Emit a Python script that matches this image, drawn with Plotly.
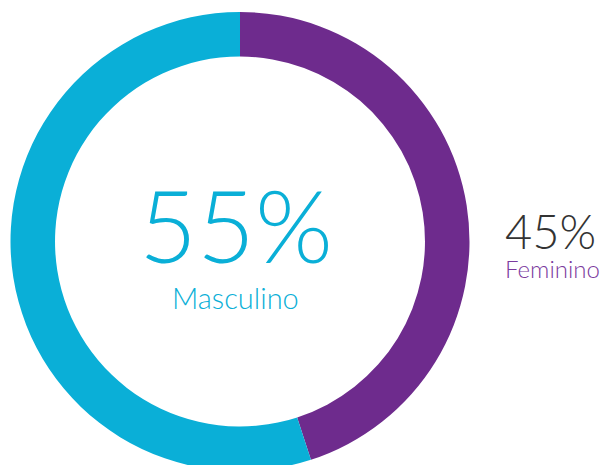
import plotly.graph_objects as go

labels = ["Masculino", "Feminino"]
values = [55, 45]
colors = ["#0AAFD7", "#6E2B8D"]
pct_text = ["55%", "45%"]

W, H = 603, 475  # page is 465 tall; bottom of ring is cut off like the reference
cx, cy, r = 240, 241.5, 229.5

# clockwise from 12 o'clock: Feminino first
fig = go.Figure(go.Pie(
    labels=labels[::-1], values=values[::-1], sort=False, direction="clockwise",
    rotation=0, hole=0.806, marker=dict(colors=colors[::-1], line=dict(width=0)),
    textinfo="none", hoverinfo="label+percent", showlegend=False,
    domain=dict(x=[(cx - r) / W, (cx + r) / W], y=[1 - (cy + r) / H, 1 - (cy - r) / H]),
))

fig.add_annotation(x=236 / W, y=1 - 224 / H, xref="paper", yref="paper", text=pct_text[0],
                   showarrow=False, font=dict(family="Lato", size=100, color=colors[0], weight=300))
fig.add_annotation(x=235 / W, y=1 - 297 / H, xref="paper", yref="paper", text=labels[0],
                   showarrow=False, font=dict(family="Lato", size=29, color=colors[0], weight=300))
fig.add_annotation(x=503 / W, y=1 - 231 / H, xref="paper", yref="paper", text=pct_text[1],
                   xanchor="left", showarrow=False, font=dict(family="Lato", size=47, color="#333333", weight=300))
fig.add_annotation(x=503 / W, y=1 - 268 / H, xref="paper", yref="paper", text=labels[1],
                   xanchor="left", showarrow=False, font=dict(family="Lato", size=24, color="#7B3A9E", weight=300))

fig.update_layout(width=W, height=H, margin=dict(l=0, r=0, t=0, b=0),
                  paper_bgcolor="white", plot_bgcolor="white")
fig.write_html("out.html", config={"displayModeBar": False},
               post_script="document.body.style.margin='0';document.body.style.overflow='hidden';document.documentElement.style.overflow='hidden';")
